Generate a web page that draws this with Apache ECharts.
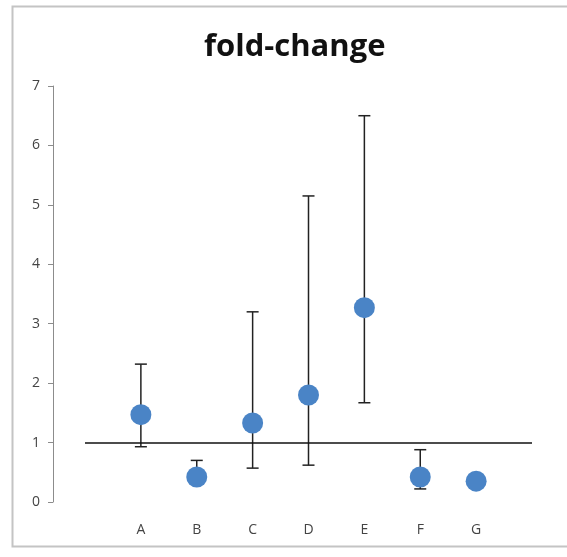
<!DOCTYPE html>
<html>
<head>
    <meta charset="utf-8" />
    <title>fold-change</title>
    <script type="text/javascript" src="https://cdn.jsdelivr.net/npm/echarts@6/dist/echarts.min.js"></script>
    <style>
        html, body { margin: 0; padding: 0; background: #fff; }
    </style>
</head>
<body>
<div id="main" style="width: 567px;height:557px;"></div>
<script type="text/javascript">
    // categories, padded with empty slots at both ends so the baseline spans 0..8
    var categories = ['', 'A', 'B', 'C', 'D', 'E', 'F', 'G', ''];
    var names = ['A', 'B', 'C', 'D', 'E', 'F', 'G'];
    var foldChange = [1.47, 0.42, 1.33, 1.8, 3.27, 0.42, 0.35];
    var upper = [2.32, 0.7, 3.2, 5.15, 6.5, 0.88, null];
    var lower = [0.93, 0.3, 0.57, 0.62, 1.67, 0.22, null];
    var baseline = 1;

    var myChart = echarts.init(document.getElementById('main'));

    var pointData = [];
    var barData = [];
    for (var i = 0; i < names.length; i++) {
        pointData.push([names[i], foldChange[i]]);
        if (upper[i] != null) barData.push([names[i], lower[i], upper[i]]);
    }

    var option = {
        animation: false,
        backgroundColor: '#fff',
        graphic: [{
            type: 'rect',
            shape: { x: 12.5, y: 6.5, width: 570, height: 540 },
            style: { fill: 'none', stroke: '#c4c4c4', lineWidth: 2 },
            z: 100
        }],
        title: {
            text: 'fold-change',
            left: 199,
            top: 27,
            textStyle: { fontFamily: 'Open Sans', fontWeight: 'bold', fontSize: 31, color: '#111' }
        },
        grid: { left: 85, right: 35, top: 86, bottom: 55 },
        xAxis: {
            type: 'category',
            data: categories,
            boundaryGap: false,
            axisLine: { show: false },
            axisTick: { show: false },
            axisLabel: { color: '#444', fontSize: 14, fontFamily: 'Open Sans', margin: 21, interval: 0 },
            splitLine: { show: false }
        },
        yAxis: {
            type: 'value',
            min: 0,
            max: 7,
            interval: 1,
            offset: 32,
            axisLine: { show: true, lineStyle: { color: '#8c8c8c', width: 1 } },
            axisTick: { show: true, length: 5, lineStyle: { color: '#8c8c8c' } },
            axisLabel: { color: '#444', fontSize: 14, fontFamily: 'Open Sans', margin: 13 },
            splitLine: { show: false }
        },
        series: [
            {
                type: 'custom',
                name: 'error',
                data: barData,
                z: 2,
                renderItem: function (params, api) {
                    var x = api.coord([api.value(0), 0])[0];
                    var lo = api.coord([api.value(0), api.value(1)])[1];
                    var hi = api.coord([api.value(0), api.value(2)])[1];
                    var half = 6;
                    var st = { stroke: '#222', lineWidth: 1.5 };
                    return {
                        type: 'group',
                        children: [
                            { type: 'line', shape: { x1: x, y1: lo, x2: x, y2: hi }, style: st },
                            { type: 'line', shape: { x1: x - half, y1: hi, x2: x + half, y2: hi }, style: st },
                            { type: 'line', shape: { x1: x - half, y1: lo, x2: x + half, y2: lo }, style: st }
                        ]
                    };
                }
            },
            {
                type: 'scatter',
                name: 'fold-change',
                data: pointData,
                symbolSize: 21,
                z: 3,
                itemStyle: { color: '#4a84c6', opacity: 1 },
                markLine: {
                    silent: true,
                    symbol: 'none',
                    label: { show: false },
                    lineStyle: { color: '#111', type: 'solid', width: 1.5 },
                    data: [{ yAxis: baseline }]
                }
            }
        ]
    };
    myChart.setOption(option);
</script>
</body>
</html>
